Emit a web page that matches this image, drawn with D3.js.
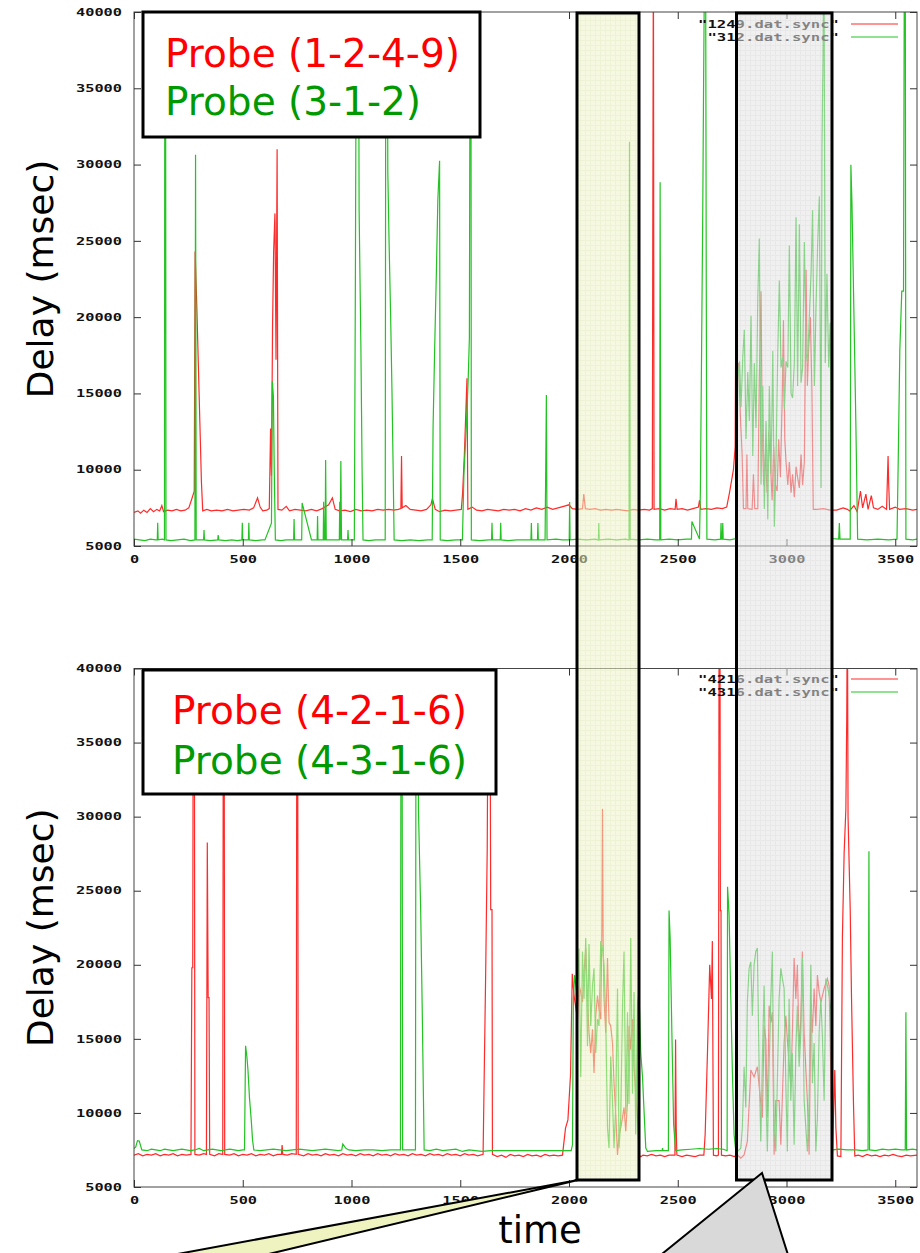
<!DOCTYPE html>
<meta charset="utf-8">
<script src="https://d3js.org/d3.v7.min.js"></script>
<style>body{margin:0;background:#fff}</style>
<div id="chart"></div>
<script>
// axis ticks
var timeTicks = [0, 500, 1000, 1500, 2000, 2500, 3000, 3500];
var delayTicks = [5000, 10000, 15000, 20000, 25000, 30000, 35000, 40000];

// top panel: [time, delay] pairs (45000 = above the frame)
var probe1249 = [[0,7200],[18,7300],[30,7150],[45,7350],[60,7200],[75,7450],[90,7250],[105,7400],[118,7300],[128,7650],[136,7250],[155,7350],[175,7300],[195,7400],[215,7300],[235,7350],[252,7500],[266,8100],[277,8600],[281,24300],[289,20600],[296,16800],[303,13000],[310,9200],[316,7300],[335,7400],[355,7300],[380,7350],[405,7300],[430,7400],[455,7300],[480,7350],[505,7400],[530,7350],[550,7500],[568,8150],[580,7550],[592,7300],[610,7350],[622,7450],[628,12700],[632,9600],[637,19400],[642,24300],[648,26800],[653,17200],[658,31000],[662,7400],[680,7350],[700,7600],[715,7300],[740,7400],[765,7350],[790,7300],[815,7400],[840,7300],[865,7450],[895,7700],[912,8150],[925,7400],[945,7300],[970,7350],[995,7250],[1020,7400],[1045,7300],[1070,7350],[1095,7300],[1120,7400],[1145,7350],[1170,7400],[1195,7350],[1215,7400],[1227,7450],[1230,10900],[1233,7500],[1250,7650],[1270,7400],[1295,7350],[1320,7300],[1345,7400],[1365,7700],[1372,8100],[1385,7400],[1405,7250],[1430,7350],[1455,7300],[1480,7350],[1505,7400],[1511,8500],[1519,11000],[1525,13500],[1531,16000],[1535,7400],[1555,7550],[1575,7350],[1600,7300],[1625,7400],[1650,7350],[1675,7300],[1700,7400],[1725,7350],[1750,7400],[1775,7300],[1800,7450],[1825,7350],[1850,7500],[1875,7400],[1900,7550],[1925,7400],[1950,7500],[1975,7600],[2000,7700],[2015,7450],[2040,7400],[2062,7450],[2068,8400],[2075,7450],[2095,7400],[2120,7450],[2145,7350],[2170,7400],[2195,7350],[2220,7400],[2245,7350],[2270,7300],[2295,7400],[2320,7350],[2345,7400],[2370,7350],[2383,7450],[2385,23700],[2388,45000],[2391,7400],[2415,7450],[2440,7350],[2465,7450],[2488,7400],[2492,8100],[2497,7400],[2520,7450],[2545,7350],[2570,7450],[2595,7550],[2600,8000],[2606,7400],[2630,7450],[2655,7400],[2680,7500],[2705,7450],[2725,7550],[2738,8500],[2756,10000],[2764,11500],
  [2768,23500],[2773,16000],[2780,17000],[2788,13500],[2796,11000],[2802,7450],[2814,7450],[2818,11000],[2822,7450],[2842,7400],[2848,9700],[2854,7450],[2868,7450],[2875,16000],[2883,21700],[2888,13000],[2895,9000],[2903,11000],[2911,8500],[2918,12500],[2926,10500],[2934,8000],[2941,11500],[2949,9000],[2957,8600],[2964,12000],[2972,9500],[2980,14500],[2986,19800],[2992,12000],[2998,10500],[3006,9000],[3013,10500],[3021,8500],[3028,9700],[3036,8200],[3044,10200],[3051,9500],[3059,8800],[3067,11000],[3074,9000],[3082,10500],[3090,23100],[3096,15500],[3102,18000],[3110,20000],[3117,15100],[3123,7400],
  [3140,7400],[3170,7450],[3200,7350],[3230,7350],[3260,7500],[3280,7400],[3290,7300],[3310,7650],[3325,7250],[3340,8600],[3350,7500],[3365,8400],[3375,7400],[3390,8300],[3400,7500],[3420,7400],[3440,7600],[3460,7400],[3467,10900],[3470,9000],[3474,7400],[3500,7550],[3520,7400],[3550,7450],[3580,7350],[3600,7400]];

var probe312 = [[0,5450],[25,5400],[50,5350],[75,5450],[100,5400],[107,5400],[109,6530],[111,5400],[130,5450],[140,5400],[142,45000],[145,45000],[147,5400],[170,5350],[200,5400],[230,5450],[260,5350],[280,5400],[283,30650],[286,5400],[305,5400],[320,5400],[322,6050],[324,5400],[350,5350],[385,5400],[387,5720],[390,5400],[420,5350],[450,5400],[475,5350],[496,5400],[498,6530],[500,5400],[526,5400],[528,6530],[530,5400],[560,5350],[590,5400],[602,5400],[632,6500],[636,15800],[641,14800],[645,9780],[650,5400],[675,5350],[700,5400],[734,5400],[736,6770],[738,5400],[771,5400],[773,7820],[816,5400],[842,5400],[844,6970],[846,5400],[870,5400],[872,7900],[875,5400],[879,5400],[881,10640],[884,5400],[944,5400],[946,7900],[948,5400],[951,10570],[954,5400],[982,5400],[984,6050],[986,5400],[1013,5400],[1018,23000],[1023,45000],[1032,45000],[1035,27000],[1043,18300],[1049,9660],[1053,5400],[1080,5350],[1110,5400],[1155,5400],[1158,45000],[1164,45000],[1167,29470],[1173,24750],[1180,20040],[1186,15240],[1191,10530],[1196,5400],[1230,5350],[1270,5400],[1310,5350],[1350,5400],[1371,5400],[1375,12740],[1382,17660],[1390,22780],[1397,27700],[1405,30250],[1408,5400],[1440,5350],[1480,5400],[1510,5400],[1517,9780],[1528,12830],[1536,15700],[1542,18650],[1546,45000],[1549,45000],[1551,5400],[1590,5350],[1630,5400],[1644,5400],[1646,6530],[1648,5400],[1684,5400],[1686,6530],[1688,5400],[1720,5350],[1760,5400],[1800,5400],[1825,5400],[1827,6500],[1829,5400],[1855,5400],[1857,6500],[1859,5400],[1890,5400],[1893,10070],[1896,14900],[1899,5400],[1940,5450],[1970,5400],[2001,5400],[2003,7890],[2005,5400],[2040,5450],[2080,5400],[2120,5450],[2135,5400],[2137,6500],[2139,5400],[2180,5450],[2220,5400],[2260,5450],[2276,5400],[2278,31500],[2281,5450],[2320,5400],[2360,5450],[2400,5400],[2417,5400],[2419,28840],[2422,5400],[2460,5450],[2500,5400],[2540,5450],[2563,5450],[2565,6600],[2600,5450],[2604,8575],[2610,18470],[2615,27000],[2619,35760],[2624,45000],[2628,45000],[2631,22640],[2634,5450],[2670,5400],[2697,5450],[2699,6500],[2701,5450],[2705,5450],[2707,6500],[2709,5450],[2740,5400],[2768,5490],
  [2776,15950],[2784,17100],[2791,14100],[2799,17400],[2806,19170],[2814,12020],[2822,16400],[2829,13200],[2837,20090],[2845,10900],[2852,17000],[2860,12740],[2868,21240],[2875,25160],[2883,9030],[2891,15480],[2898,7430],[2906,13200],[2914,6730],[2921,15480],[2929,9720],[2937,17790],[2944,6270],[2952,10900],[2960,17790],[2967,22400],[2975,16700],[2983,17400],[2990,14000],[2998,17100],[3006,16700],[3013,24690],[3021,15000],[3028,14700],[3036,17000],[3044,26540],[3051,15480],[3059,26080],[3067,15700],[3074,16700],[3082,24930],[3090,17600],[3097,17000],[3105,20090],[3113,22850],[3120,27000],[3128,15480],[3136,20780],[3143,24690],[3151,27920],[3159,8800],[3163,31140],[3168,37100],[3172,45000],[3178,17000],[3186,22850],[3194,16700],[3201,19630],[3208,5490],
  [3240,5450],[3243,6500],[3246,5450],[3293,5450],[3296,29990],[3301,27460],[3307,22640],[3313,17790],[3319,12940],[3327,5450],[3370,5400],[3420,5450],[3470,5400],[3508,5450],[3514,10880],[3521,17790],[3530,21700],[3538,21700],[3542,45000],[3546,45000],[3549,5450],[3580,5400],[3600,5450]];

// bottom panel
var probe4216 = [[0,7150],[20,7250],[40,7100],[60,7200],[80,7150],[100,7250],[120,7100],[140,7200],[160,7150],[180,7250],[200,7100],[220,7200],[240,7150],[262,7200],[266,19800],[270,19800],[273,45000],[277,45000],[280,7200],[300,7150],[320,7250],[333,7200],[337,28250],[341,17780],[345,17780],[348,7200],[370,7100],[390,7250],[408,7200],[411,45000],[414,45000],[417,7200],[440,7150],[460,7250],[480,7100],[500,7200],[520,7150],[540,7250],[560,7100],[580,7200],[600,7150],[620,7250],[640,7100],[660,7200],[678,7200],[681,7840],[684,7200],[705,7150],[725,7250],[746,7200],[749,45000],[752,45000],[755,7200],[780,7100],[800,7250],[820,7150],[840,7200],[860,7100],[880,7250],[900,7150],[920,7200],[940,7100],[960,7250],[980,7150],[1000,7200],[1020,7100],[1040,7250],[1060,7150],[1080,7200],[1100,7100],[1120,7250],[1140,7150],[1160,7200],[1180,7100],[1200,7250],[1220,7150],[1240,7200],[1260,7100],[1280,7250],[1300,7150],[1320,7200],[1340,7100],[1360,7250],[1380,7150],[1400,7200],[1420,7100],[1440,7250],[1460,7150],[1480,7200],[1500,7100],[1520,7250],[1540,7150],[1560,7200],[1580,7100],[1605,7200],[1609,11350],[1617,19560],[1624,27780],[1630,45000],[1636,45000],[1640,23730],[1646,23730],[1648,7200],[1670,7050],[1690,7150],[1710,7000],[1730,7200],[1750,7100],[1770,7150],[1790,7050],[1810,7200],[1830,7100],[1850,7150],[1870,7050],[1890,7200],[1910,7100],[1930,7150],[1950,7100],[1970,7150],[1984,8970],[1995,9530],[2007,12570],[2015,19400],[2023,17930],
  [2039,16330],[2046,18600],[2054,18160],[2062,17470],[2069,19530],[2077,21130],[2085,17700],[2092,15410],[2100,14040],[2108,15640],[2115,12700],[2123,16560],[2131,17930],[2138,17010],[2146,16330],[2151,22280],[2154,30530],[2157,21820],[2161,17700],[2169,15410],[2177,20450],[2184,16100],[2192,15870],[2200,14720],[2207,12000],[2215,9900],[2223,7170],[2230,8540],[2238,9000],[2246,9680],[2253,10370],[2261,8770],[2269,10830],[2276,15870],[2284,14260],[2292,16330],[2299,13120],[2307,11290],[2315,9680],[2322,7170],[2330,7050],
  [2340,7150],[2360,7100],[2380,7200],[2400,7100],[2420,7150],[2440,7050],[2460,7150],[2487,7150],[2490,14950],[2493,9000],[2496,7150],[2520,7050],[2540,7150],[2560,7100],[2580,7050],[2600,7150],[2620,7150],[2626,8540],[2637,14260],[2647,20000],[2655,17700],[2659,21600],[2664,7150],[2680,7100],[2687,7150],[2690,45000],[2694,45000],[2696,23660],[2699,23660],[2701,7150],[2720,7100],[2740,7150],[2760,7050],
  [2774,7170],[2790,6950],[2805,7170],[2820,8080],[2836,12890],[2851,12430],[2866,13120],[2879,11060],[2889,9680],[2897,15870],[2905,14950],[2912,9680],[2920,17240],[2928,16100],[2935,16800],[2943,7170],[2951,10830],[2966,10830],[2974,7850],[2989,14720],[2997,16560],[3004,14950],[3020,11750],[3027,15410],[3035,20450],[3043,17700],[3050,20000],[3058,14260],[3066,16330],[3073,20900],[3081,15410],[3096,10830],[3104,7170],[3112,17470],[3119,15410],[3127,18400],[3135,15870],[3142,19300],[3150,18160],[3158,17470],[3173,18400],[3188,19070],[3196,18600],[3211,7100],
  [3222,12890],[3227,9000],[3234,7100],[3250,7050],[3257,21820],[3265,27550],[3273,30530],[3277,36700],[3280,45000],[3283,30000],[3293,23660],[3299,17700],[3308,10600],[3314,7100],[3330,7150],[3350,7050],[3370,7200],[3390,7100],[3410,7150],[3430,7050],[3450,7150],[3470,7100],[3490,7200],[3510,7100],[3530,7050],[3550,7150],[3570,7100],[3600,7150]];

var probe4316 = [[0,7600],[8,7700],[16,8130],[24,8100],[36,7500],[60,7450],[80,7550],[100,7500],[120,7450],[140,7550],[160,7500],[180,7450],[200,7500],[220,7550],[240,7500],[260,7450],[280,7500],[300,7600],[320,7450],[340,7500],[360,7550],[380,7500],[400,7450],[420,7500],[440,7550],[460,7500],[480,7450],[500,7500],[508,7500],[513,14530],[519,13810],[524,12900],[531,11010],[539,9530],[545,8180],[551,7500],[580,7450],[610,7500],[640,7550],[670,7500],[700,7450],[730,7500],[760,7550],[790,7500],[820,7450],[850,7500],[880,7550],[910,7500],[940,7450],[955,7500],[960,7900],[975,7600],[988,7500],[1020,7450],[1060,7500],[1100,7500],[1140,7450],[1180,7500],[1225,7500],[1228,45000],[1232,45000],[1235,7500],[1265,7500],[1294,7500],[1297,45000],[1305,45000],[1308,30370],[1318,23730],[1325,17190],[1331,10770],[1334,7500],[1360,7450],[1390,7550],[1420,7450],[1450,7500],[1480,7550],[1510,7400],[1540,7500],[1570,7450],[1600,7400],[1640,7450],[1680,7450],[1720,7450],[1760,7450],[1800,7450],[1840,7450],[1880,7450],[1920,7450],[1960,7450],[2010,7450],[2016,7850],[2020,17700],[2026,19300],
  [2039,17700],[2046,21100],[2054,12430],[2062,20900],[2069,17700],[2077,21800],[2085,14500],[2092,21400],[2100,15870],[2108,18600],[2115,19760],[2123,14040],[2131,16330],[2138,15870],[2146,21600],[2154,21130],[2161,20000],[2169,16330],[2177,9000],[2184,7625],[2192,13800],[2200,10830],[2207,7625],[2215,10600],[2223,18400],[2230,7625],[2238,9680],[2246,17240],[2253,20900],[2261,9900],[2269,16800],[2276,10600],[2284,21800],[2292,11290],[2299,18160],[2307,8540],[2315,17470],[2322,18160],[2330,14040],[2338,12430],[2345,10140],[2353,7625],[2361,7400],
  [2400,7450],[2428,7450],[2430,7625],[2432,7450],[2457,7450],[2460,23660],[2465,21800],[2473,15410],[2481,9230],[2490,7450],[2520,7500],[2560,7550],[2600,7600],[2640,7550],[2680,7600],[2710,7550],[2727,7450],[2729,25260],[2736,23430],[2744,17700],[2751,12890],[2759,8540],[2767,7400],
  [2774,7395],[2790,7625],[2797,9000],[2805,13120],[2813,10370],[2820,17470],[2828,19760],[2836,20200],[2843,16560],[2851,20000],[2859,20900],[2866,21130],[2874,13120],[2882,8080],[2889,13580],[2897,18600],[2905,11750],[2912,7400],[2920,13120],[2928,17700],[2935,20900],[2943,9450],[2951,7400],[2958,12210],[2966,17700],[2974,19760],[2981,19070],[2989,18400],[2997,12000],[3004,7400],[3012,17700],[3020,10830],[3027,14040],[3035,7850],[3043,14260],[3050,17240],[3058,13120],[3066,15410],[3073,20450],[3081,10830],[3089,9000],[3096,7400],[3104,10830],[3112,20000],[3119,12000],[3127,14720],[3135,7400],[3142,9680],[3150,15410],[3158,17700],[3165,15180],[3173,10830],[3181,19070],[3188,18600],[3196,17930],[3204,17010],[3211,7500],
  [3240,7550],[3280,7500],[3320,7500],[3350,7450],[3375,7500],[3377,17470],[3379,27660],[3382,7500],[3410,7450],[3440,7550],[3470,7500],[3500,7550],[3530,7500],[3546,7500],[3549,16800],[3552,7500],[3580,7550],[3600,7500]];

var W = 920, H = 1253;
var svg = d3.select("#chart").append("svg")
    .attr("width", W).attr("height", H)
    .style("display", "block");
svg.append("rect").attr("width", W).attr("height", H).attr("fill", "#fff");

var defs = svg.append("defs");
function gridPattern(id, base, line) {
  var p = defs.append("pattern").attr("id", id)
    .attr("width", 5).attr("height", 5).attr("patternUnits", "userSpaceOnUse");
  p.append("rect").attr("width", 5).attr("height", 5).attr("fill", base);
  p.append("path").attr("d", "M0,0.5H5M0.5,0V5").attr("stroke", line).attr("stroke-width", 1);
}
gridPattern("gridYellow", "#eef3c8", "#e2e9b2");
gridPattern("gridGray", "#e4e4e4", "#d6d6d6");

var x = d3.scaleLinear().domain([0, 3600]).range([134, 917]);
var monoFont = "DejaVu Sans Mono";

function stretch(sel, per) {
  sel.attr("font-family", monoFont).attr("font-size", 10).attr("font-weight", "bold")
    .attr("fill", "#111")
    .attr("textLength", function(d) { return String(d).length * per; })
    .attr("lengthAdjust", "spacingAndGlyphs");
}

var panels = [
  {y0: 546, y1: 12, red: probe1249, green: probe312,
   keys: ['"1249.dat.sync"', '"312.dat.sync"'], keyY: 24,
   box: [143, 12, 337, 125], probes: ["Probe (1-2-4-9)", "Probe (3-1-2)"],
   textX: 165, textY: [67, 115]},
  {y0: 1187, y1: 668.5, red: probe4216, green: probe4316,
   keys: ['"4216.dat.sync"', '"4316.dat.sync"'], keyY: 679,
   box: [143, 670, 353, 124], probes: ["Probe (4-2-1-6)", "Probe (4-3-1-6)"],
   textX: 172, textY: [724, 774]}
];

panels.forEach(function(p, i) {
  var y = d3.scaleLinear().domain([5000, 40000]).range([p.y0, p.y1]);
  var g = svg.append("g");

  // clip lines to the plot frame
  defs.append("clipPath").attr("id", "clip" + i)
    .append("rect").attr("x", 134).attr("y", p.y1)
    .attr("width", 917 - 134).attr("height", p.y0 - p.y1);

  var line = d3.line().x(function(d) { return x(d[0]); }).y(function(d) { return y(d[1]); });
  var lines = g.append("g").attr("clip-path", "url(#clip" + i + ")");
  lines.append("path").datum(p.red).attr("d", line)
    .attr("fill", "none").attr("stroke", "#ff2a2a").attr("stroke-width", 1.2);
  lines.append("path").datum(p.green).attr("d", line)
    .attr("fill", "none").attr("stroke", "#22c322").attr("stroke-width", 1.2);

  // frame and mirrored ticks
  g.append("rect").attr("x", 134).attr("y", p.y1)
    .attr("width", 917 - 134).attr("height", p.y0 - p.y1)
    .attr("fill", "none").attr("stroke", "#444");

  var fmt = d3.format("d");
  var xb = g.append("g").attr("transform", "translate(0," + p.y0 + ")")
    .call(d3.axisBottom(x).tickValues(timeTicks).tickFormat(fmt)
      .tickSize(-7).tickSizeOuter(0).tickPadding(10));
  var xt = g.append("g").attr("transform", "translate(0," + p.y1 + ")")
    .call(d3.axisTop(x).tickValues(timeTicks).tickSize(-7).tickSizeOuter(0).tickFormat(""));
  var yl = g.append("g").attr("transform", "translate(134,0)")
    .call(d3.axisLeft(y).tickValues(delayTicks).tickFormat(fmt)
      .tickSize(-7).tickSizeOuter(0).tickPadding(12));
  var yr = g.append("g").attr("transform", "translate(917,0)")
    .call(d3.axisRight(y).tickValues(delayTicks).tickSize(-7).tickSizeOuter(0).tickFormat(""));
  [xb, xt, yl, yr].forEach(function(a) {
    a.select(".domain").remove();
    a.selectAll(".tick line").attr("stroke", "#333");
  });
  stretch(xb.selectAll("text"), 9.2);
  stretch(yl.selectAll("text"), 9.2);

  // gnuplot key
  p.keys.forEach(function(k, j) {
    var ky = p.keyY + j * 13;
    g.append("text").datum(k).attr("x", 839).attr("y", ky + 3.5)
      .attr("text-anchor", "end").text(k).call(stretch, 9.4);
    g.append("line").attr("x1", 851).attr("x2", 898).attr("y1", ky).attr("y2", ky)
      .attr("stroke", j ? "#22c322" : "#ff2a2a").attr("stroke-width", 1.2);
  });

  // probe legend box
  g.append("rect").attr("x", p.box[0]).attr("y", p.box[1])
    .attr("width", p.box[2]).attr("height", p.box[3])
    .attr("fill", "#fff").attr("stroke", "#000").attr("stroke-width", 3);
  p.probes.forEach(function(t, j) {
    g.append("text").attr("x", p.textX).attr("y", p.textY[j])
      .attr("font-family", "DejaVu Sans").attr("font-size", 39)
      .attr("fill", j ? "#009a00" : "#ff0000").text(t);
  });

  svg.append("text")
    .attr("transform", "translate(53," + ((p.y0 + p.y1) / 2) + ") rotate(-90)")
    .attr("text-anchor", "middle")
    .attr("font-family", "DejaVu Sans").attr("font-size", 36).attr("fill", "#000")
    .text("Delay (msec)");
});

// highlighted time windows spanning both panels
var bands = [
  {x: 577, w: 62, fill: "url(#gridYellow)"},
  {x: 736.5, w: 95.5, fill: "url(#gridGray)"}
];
bands.forEach(function(b) {
  svg.append("rect").attr("x", b.x).attr("y", 13).attr("width", b.w).attr("height", 1167)
    .attr("fill", b.fill).attr("opacity", 0.55);
  svg.append("rect").attr("x", b.x).attr("y", 13).attr("width", b.w).attr("height", 1167)
    .attr("fill", "none").attr("stroke", "#000").attr("stroke-width", 3);
});

// callouts
svg.append("polygon").attr("points", "578,1180 156,1258 252,1258")
  .attr("fill", "#eef3c0").attr("stroke", "#000").attr("stroke-width", 2);
svg.append("polygon").attr("points", "762,1173 657,1258 789,1258")
  .attr("fill", "#d9d9d9").attr("stroke", "#000").attr("stroke-width", 2);

svg.append("text").attr("x", 540).attr("y", 1243).attr("text-anchor", "middle")
  .attr("font-family", "DejaVu Sans").attr("font-size", 37).attr("fill", "#000")
  .text("time");
</script>
